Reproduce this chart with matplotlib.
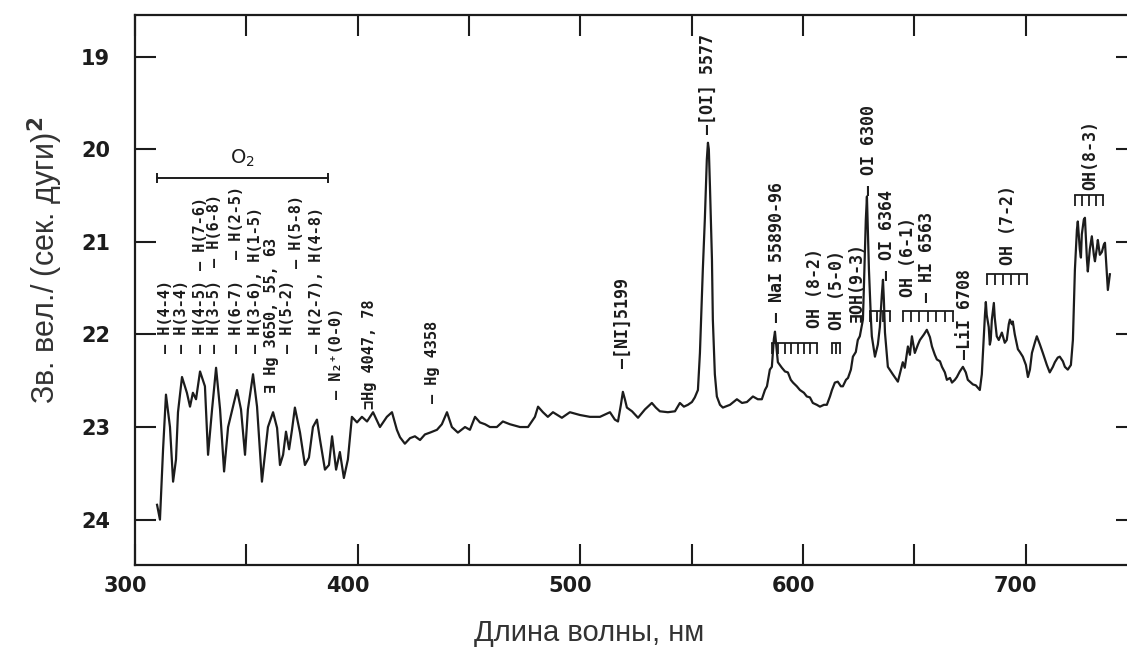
import matplotlib.pyplot as plt
from matplotlib.transforms import ScaledTranslation

# night sky spectrum: wavelength (nm) vs mag / arcsec^2
# near UV, Herzberg O2 bands
wl_uv = [309.9, 311.2, 312.6, 313.9, 315.7, 317.1, 318.4, 319.3, 321.1, 323.3,
         324.7, 326.0, 327.4, 329.2, 331.4, 332.8, 334.6, 336.4, 338.2, 340.0,
         341.8, 344.0, 345.8, 347.6, 349.4, 350.7, 353.0, 354.8, 357.0, 359.7,
         362.0, 363.8, 365.1, 366.5, 367.8, 369.2, 370.5, 371.8, 374.1, 376.3,
         378.1, 379.9, 381.7, 383.1, 385.3, 387.1, 388.5, 390.3, 392.0, 393.8,
         395.6, 397.4, 399.7, 401.9, 404.2, 406.9, 410.0, 413.1, 415.4, 417.6]
mag_uv = [23.84, 24.00, 23.24, 22.65, 23.00, 23.59, 23.35, 22.84, 22.46, 22.63,
          22.78, 22.63, 22.70, 22.40, 22.56, 23.30, 22.81, 22.36, 22.81, 23.48,
          23.00, 22.78, 22.60, 22.81, 23.30, 22.81, 22.43, 22.78, 23.59, 23.00,
          22.84, 23.01, 23.41, 23.30, 23.05, 23.24, 23.03, 22.79, 23.06, 23.41,
          23.33, 23.00, 22.92, 23.14, 23.46, 23.41, 23.10, 23.46, 23.27, 23.55,
          23.35, 22.89, 22.95, 22.89, 22.94, 22.84, 23.00, 22.89, 22.84, 23.03]

# blue - green continuum up to the 5577 line
wl_blue = [419.0, 421.2, 423.5, 425.7, 428.0, 430.2, 432.5, 435.6, 437.8, 440.1,
           442.3, 445.0, 448.2, 450.4, 452.7, 454.9, 457.2, 459.4, 462.5, 465.2,
           468.4, 472.9, 476.5, 479.6, 481.0, 483.2, 485.4, 487.7, 491.7, 495.3,
           499.8, 504.3, 508.8, 513.3, 515.5, 516.9, 518.2, 519.1, 520.0, 520.9,
           523.2, 525.9, 529.0, 532.1, 533.9, 535.7, 539.3, 542.5, 544.7, 546.5,
           548.3, 550.1, 551.4, 552.8, 553.7, 555.0, 555.9]
mag_blue = [23.11, 23.18, 23.12, 23.10, 23.14, 23.08, 23.06, 23.03, 22.97, 22.84,
            23.00, 23.06, 23.00, 23.03, 22.89, 22.95, 22.97, 23.00, 23.00, 22.94,
            22.97, 23.00, 23.00, 22.89, 22.78, 22.84, 22.89, 22.84, 22.90, 22.84,
            22.87, 22.89, 22.89, 22.84, 22.92, 22.94, 22.76, 22.62, 22.70, 22.79,
            22.83, 22.90, 22.81, 22.74, 22.79, 22.83, 22.84, 22.83, 22.74, 22.78,
            22.76, 22.73, 22.68, 22.60, 22.20, 21.30, 20.76]

# [OI] 5577 and NaD
wl_green = [556.8, 557.3, 557.7, 558.2, 559.1, 559.5, 560.4, 561.3, 562.7, 564.0,
            567.2, 570.3, 572.6, 574.8, 577.5, 579.7, 581.5, 582.9, 583.8, 585.1,
            586.0, 586.9, 587.4, 588.3, 588.7, 590.5, 591.9, 593.2, 594.5, 595.5,
            597.2, 598.6, 600.4, 601.7, 603.1, 604.4, 606.2, 607.6, 609.4, 610.7,
            612.1, 613.0, 614.3, 615.6, 617.0, 617.9, 619.3, 620.2, 621.5]
mag_green = [20.11, 19.93, 20.00, 20.40, 21.19, 21.84, 22.43, 22.67, 22.76, 22.79,
             22.76, 22.70, 22.74, 22.73, 22.67, 22.70, 22.70, 22.60, 22.56, 22.38,
             22.35, 22.05, 21.97, 22.20, 22.30, 22.36, 22.40, 22.41, 22.49, 22.52,
             22.56, 22.60, 22.63, 22.67, 22.68, 22.74, 22.76, 22.78, 22.76, 22.76,
             22.67, 22.60, 22.52, 22.51, 22.56, 22.56, 22.49, 22.47, 22.38]

# [OI] 6300/6364, H alpha, Li
wl_red = [622.4, 623.7, 624.6, 625.5, 626.9, 627.3, 627.8, 628.2, 628.7, 629.1,
          629.6, 630.5, 630.9, 632.3, 633.6, 634.5, 635.4, 635.9, 636.3, 636.8,
          638.1, 640.3, 642.6, 644.8, 645.7, 647.1, 648.0, 648.9, 650.2, 651.6,
          652.5, 654.3, 655.6, 657.0, 657.9, 659.2, 660.1, 661.5, 662.4, 663.7,
          664.6, 666.0, 666.9, 668.2, 669.1, 670.4, 671.8, 673.1, 674.0, 675.4,
          676.3, 677.6, 679.4, 680.3]
mag_red = [22.24, 22.19, 22.06, 22.02, 21.84, 21.52, 21.08, 20.76, 20.51, 20.87,
           21.30, 21.84, 22.02, 22.24, 22.11, 21.92, 21.57, 21.41, 21.62, 21.98,
           22.35, 22.43, 22.51, 22.30, 22.36, 22.13, 22.22, 22.02, 22.20, 22.11,
           22.06, 22.00, 21.95, 22.03, 22.13, 22.22, 22.27, 22.29, 22.35, 22.41,
           22.49, 22.47, 22.52, 22.49, 22.46, 22.40, 22.35, 22.41, 22.49, 22.52,
           22.54, 22.55, 22.60, 22.43]

# OH (7-2) and (8-3) bands
wl_oh = [680.8, 681.7, 682.1, 682.5, 683.4, 683.9, 684.3, 684.8, 685.7, 686.1,
         687.0, 687.9, 689.3, 690.6, 691.5, 692.4, 692.9, 693.8, 694.2, 695.1,
         696.5, 697.4, 698.7, 700.1, 701.0, 701.9, 702.8, 704.1, 705.0, 706.4,
         707.7, 709.5, 710.8, 712.2, 713.1, 714.4, 715.3, 716.7, 717.6, 718.9,
         720.3, 721.2, 722.1, 723.0, 723.4, 724.3, 724.8, 725.2, 726.1, 726.6,
         727.5, 727.9, 728.8, 729.7, 730.6, 731.1, 732.0, 732.4, 733.3, 734.2,
         735.1, 735.6, 736.5, 736.9, 737.8]
mag_oh = [22.20, 21.79, 21.65, 21.79, 21.92, 22.11, 22.06, 21.84, 21.66, 21.82,
          22.02, 22.06, 21.98, 22.09, 22.06, 21.89, 21.84, 21.89, 21.86, 22.00,
          22.16, 22.19, 22.24, 22.33, 22.46, 22.38, 22.20, 22.09, 22.02, 22.11,
          22.20, 22.33, 22.41, 22.35, 22.30, 22.25, 22.24, 22.29, 22.35, 22.38,
          22.33, 22.06, 21.30, 20.87, 20.78, 21.08, 21.17, 20.92, 20.76, 20.74,
          21.19, 21.32, 21.08, 20.94, 21.14, 21.21, 21.06, 20.98, 21.14, 21.11,
          21.03, 21.01, 21.35, 21.52, 21.35]

# line identifications (text, wavelength, magnitude at the foot of the label)
id_text = ['– H(4-4)', '– H(3-4)', '– H(4-5)', '– H(7-6)', '– H(3-5)', '– H(6-8)',
           '– H(6-7)', '– H(2-5)', '– H(3-6), H(1-5)', '∃ Hg 3650, 55, 63',
           '– H(5-2)', '– H(5-8)', '– H(2-7), H(4-8)', '– N₂⁺(0-0)', '⊐Hg 4047, 78',
           '– Hg 4358', '–[NI]5199', '–[OI] 5577', '– NaI 55890-96', 'OH (8-2)',
           'OH (5-0)', '∃OH(9-3)', '– OI 6300', '– OI 6364', 'OH (6-1)',
           '– HI 6563', '–LiI 6708', 'OH (7-2)', 'OH(8-3)']
id_wl = [313.5, 321.1, 329.2, 329.2, 335.9, 335.9, 345.8, 345.8, 353.9, 361.5,
         368.3, 372.7, 381.7, 390.7, 405.5, 433.8, 519.1, 557.3, 588.3, 605.3,
         615.2, 624.2, 629.6, 637.7, 647.1, 655.6, 672.7, 692.0, 729.2]
id_mag = [22.20, 22.20, 22.20, 21.30, 22.20, 21.27, 22.20, 21.19, 22.20, 22.63,
          22.20, 21.28, 22.20, 22.70, 22.81, 22.74, 22.36, 19.84, 21.87, 21.93,
          21.95, 21.87, 20.49, 21.41, 21.60, 21.65, 22.27, 21.25, 20.44]

# band heads drawn as combs
comb_start = [586.0, 613.0, 630.1, 644.8, 682.6, 722.1]
comb_end = [606.2, 616.6, 639.0, 667.3, 700.5, 734.7]
comb_top = [22.09, 22.09, 21.75, 21.75, 21.35, 20.49]
comb_teeth = [8, 3, 4, 7, 6, 5]

ink = '#1c1c1c'

fig = plt.figure(figsize=(11.27, 6.51), dpi=100)
ax = fig.add_axes([0.1198, 0.1321, 0.8891, 0.8449])

wl_all = wl_uv + wl_blue + wl_green + wl_red + wl_oh
mag_all = mag_uv + mag_blue + mag_green + mag_red + mag_oh
ax.plot(wl_all, mag_all, color=ink, lw=1.6)

for t, x, y in zip(id_text, id_wl, id_mag):
    size = 11 if x < 500 else 12
    ax.text(x, y, t, rotation=90, ha='center', va='bottom', fontsize=size,
            fontweight='bold', family=['DejaVu Sans Mono', 'DejaVu Sans'], color=ink)

for x0, x1, top, n in zip(comb_start, comb_end, comb_top, comb_teeth):
    ax.plot([x0, x1], [top, top], color=ink, lw=1.3)
    step = (x1 - x0) / (n - 1)
    ax.vlines([x0 + i * step for i in range(n)], top, top + 0.12, color=ink, lw=1.3)

# O2 Herzberg band range
ax.plot([309.9, 386.7], [20.31, 20.31], color=ink, lw=1.4)
ax.vlines([309.9, 386.7], 20.26, 20.36, color=ink, lw=1.4)
ax.text(348.0, 20.10, 'O$_2$', ha='center', va='center', fontsize=14, color=ink)

ax.set_xlim(300, 750)
ax.set_ylim(24.49, 18.55)
ax.set_xticks([300, 400, 500, 600, 700])
ax.set_xticks([350, 450, 550, 650, 750], minor=True)
ax.set_yticks([19, 20, 21, 22, 23, 24])
ax.tick_params(which='both', direction='in', length=15, width=1.5, color=ink,
               top=True, right=True, labelsize=15, labelcolor=ink)
ax.tick_params(axis='x', pad=8)
ax.tick_params(axis='y', pad=18)
for lab in ax.get_xticklabels() + ax.get_yticklabels():
    lab.set_fontweight('bold')
# labels in the original sit a little left of their ticks
shift = ScaledTranslation(-0.1, 0, fig.dpi_scale_trans)
for lab in ax.get_xticklabels():
    lab.set_transform(lab.get_transform() + shift)
for s in ax.spines.values():
    s.set_linewidth(1.6)
    s.set_color(ink)

fig.text(0.04, 0.60, 'Зв. вел./ (сек. дуги)$^{\\mathbf{2}}$', rotation=90,
         ha='center', va='center', fontsize=22, family='Liberation Sans', color='#333333')
fig.text(0.523, 0.028, 'Длина волны, нм', ha='center', va='center', fontsize=21,
         family='Liberation Sans', color='#333333')

fig.savefig('out.png', dpi=100)
